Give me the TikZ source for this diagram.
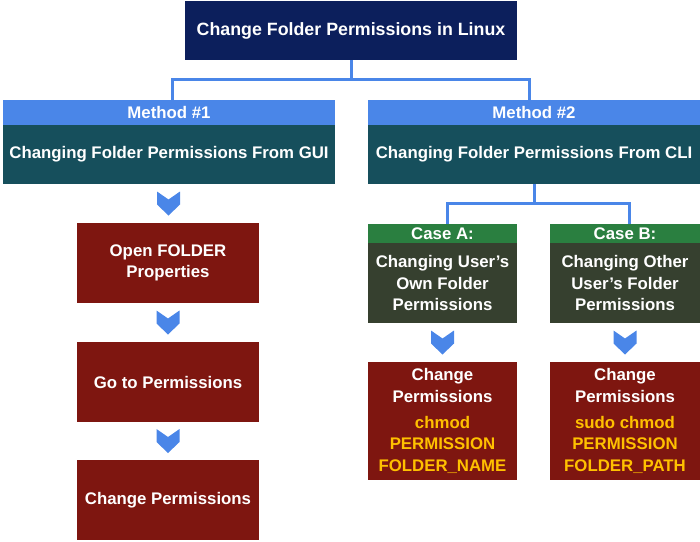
\documentclass[tikz,border=0pt]{standalone}
\usepackage{fontspec}
\setmainfont{Liberation Sans}
\usetikzlibrary{calc}
\definecolor{navybox}{HTML}{0C1F5C}
\definecolor{linkblue}{HTML}{4A86E8}
\definecolor{tealbox}{HTML}{164F5C}
\definecolor{redbox}{HTML}{7E1610}
\definecolor{greenbox}{HTML}{2A7F40}
\definecolor{olivebox}{HTML}{36402F}
\definecolor{codeyellow}{HTML}{FFC000}
\begin{document}
\begin{tikzpicture}[x=1pt, y=-1pt,
    box/.style={fill=#1, text=white, inner sep=0pt, align=center,
        font=\fontsize{16.8}{21.5}\selectfont\bfseries},
    link/.style={draw=linkblue, line width=3pt},
    chevron/.pic={
        \fill[linkblue] (-11.5,-12)--(0,-4)--(11.5,-12)--(11.5,1)--(0,12)--(-11.5,1)--cycle;
    }]
\useasboundingbox (0,0) rectangle (700,541);

% title
\node (title)[box=navybox, minimum width=332pt, minimum height=59pt,
    font=\fontsize{17.8}{21}\selectfont\bfseries] at (351,30.5)
    {Change Folder Permissions in Linux};

% the two methods
\node (h1)[box=linkblue, minimum width=332pt, minimum height=25pt] at (169,112.5){Method \#1};
\node (m1)[box=tealbox, minimum width=332pt, minimum height=59pt] at (169,154.5)
    {Changing Folder Permissions From GUI};
\node (h2)[box=linkblue, minimum width=332pt, minimum height=25pt] at (534,112.5){Method \#2};
\node (m2)[box=tealbox, minimum width=332pt, minimum height=59pt] at (534,154.5)
    {Changing Folder Permissions From CLI};

% GUI steps
\node (o1)[box=redbox, minimum width=182pt, minimum height=80pt] at (168,263)
    {Open FOLDER\\Properties};
\node (g1)[box=redbox, minimum width=182pt, minimum height=80pt] at (168,382)
    {Go to Permissions};
\node (c1)[box=redbox, minimum width=182pt, minimum height=80pt] at (168,500)
    {Change Permissions};

% CLI cases
\node (ha)[box=greenbox, minimum width=149pt, minimum height=19pt] at (442.5,233.5){Case A:};
\node (ca)[box=olivebox, minimum width=149pt, minimum height=80pt] at (442.5,283)
    {Changing User’s\\Own Folder\\Permissions};
\node (hb)[box=greenbox, minimum width=150pt, minimum height=19pt] at (625,233.5){Case B:};
\node (cb)[box=olivebox, minimum width=150pt, minimum height=80pt] at (625,283)
    {Changing Other\\User’s Folder\\Permissions};

\node (pa)[box=redbox, minimum width=149pt, minimum height=118pt] at (442.5,421)
    {Change\\Permissions\\[4.5pt]\color{codeyellow}chmod\\\color{codeyellow}PERMISSION\\\color{codeyellow}FOLDER\_NAME};
\node (pb)[box=redbox, minimum width=150pt, minimum height=118pt] at (625,421)
    {Change\\Permissions\\[4.5pt]\color{codeyellow}sudo chmod\\\color{codeyellow}PERMISSION\\\color{codeyellow}FOLDER\_PATH};

% connectors
\draw[link] (title.south)--++(0,19)-|([xshift=3pt]h1.north);
\draw[link] (title.south)--++(0,19)-|([xshift=-5pt]h2.north);
\draw[link] (m2.south)--++(0,19)-|([xshift=4.5pt]ha.north);
\draw[link] (m2.south)--++(0,19)-|([xshift=4pt]hb.north);

\foreach \a/\b in {m1/o1, o1/g1, g1/c1, ca/pa, cb/pb}
{
    \pic at ($(\a.south)!.5!(\b.north)$) {chevron};
}
\end{tikzpicture}
\end{document}
